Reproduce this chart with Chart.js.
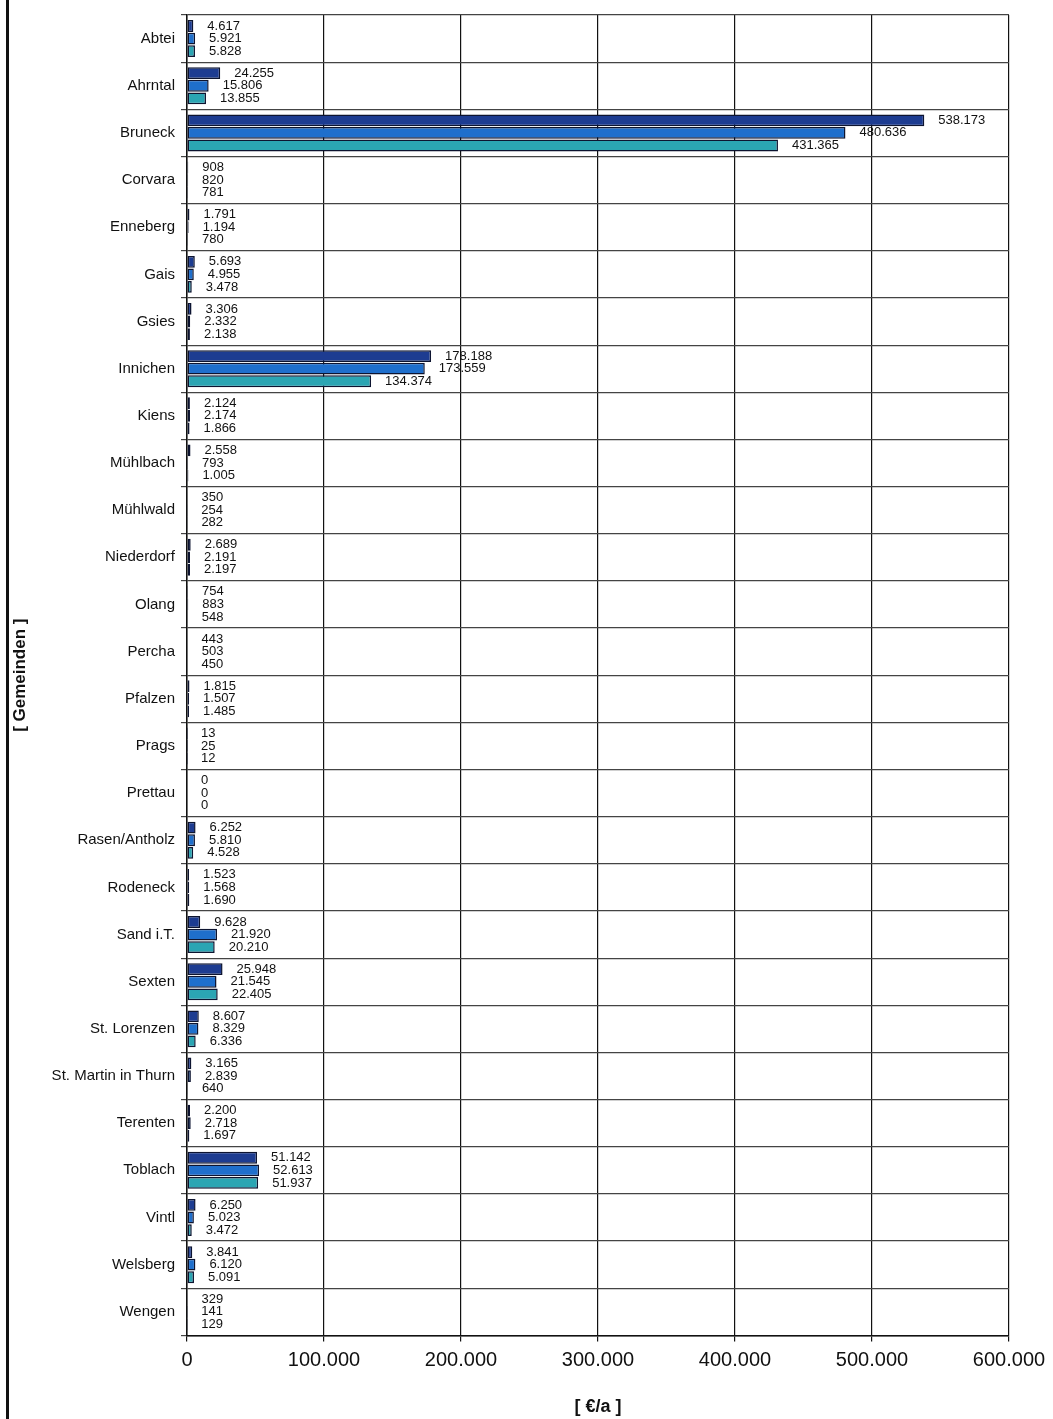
<!DOCTYPE html>
<html>
<head>
<meta charset="utf-8">
<script src="https://cdn.jsdelivr.net/npm/chart.js@4/dist/chart.umd.min.js"></script>
<style>
  html, body { margin: 0; padding: 0; background: #fff; }
  #wrap { width: 1053px; height: 1419px; position: relative; }
</style>
</head>
<body>
<div id="wrap"><canvas id="myChart" width="1053" height="1419"></canvas></div>
<script>
const gemeinden = [
  "Abtei", "Ahrntal", "Bruneck", "Corvara", "Enneberg", "Gais", "Gsies",
  "Innichen", "Kiens", "Mühlbach", "Mühlwald", "Niederdorf", "Olang",
  "Percha", "Pfalzen", "Prags", "Prettau", "Rasen/Antholz", "Rodeneck",
  "Sand i.T.", "Sexten", "St. Lorenzen", "St. Martin in Thurn", "Terenten",
  "Toblach", "Vintl", "Welsberg", "Wengen"
];

const serie1 = [
  4617, 24255, 538173, 908, 1791, 5693, 3306, 178188, 2124, 2558, 350,
  2689, 754, 443, 1815, 13, 0, 6252, 1523, 9628, 25948, 8607, 3165, 2200,
  51142, 6250, 3841, 329
];
const serie2 = [
  5921, 15806, 480636, 820, 1194, 4955, 2332, 173559, 2174, 793, 254,
  2191, 883, 503, 1507, 25, 0, 5810, 1568, 21920, 21545, 8329, 2839, 2718,
  52613, 5023, 6120, 141
];
const serie3 = [
  5828, 13855, 431365, 781, 780, 3478, 2138, 134374, 1866, 1005, 282,
  2197, 548, 450, 1485, 12, 0, 4528, 1690, 20210, 22405, 6336, 640, 1697,
  51937, 3472, 5091, 129
];

const xTicks = [0, 100000, 200000, 300000, 400000, 500000, 600000];

// Tausenderpunkt wie im Original
function formatDE(v) {
  return String(Math.round(v)).replace(/\B(?=(\d{3})+(?!\d))/g, ".");
}

const labelPlugin = {
  id: "barLabels",
  afterDatasetsDraw(chart) {
    const ctx = chart.ctx;
    ctx.save();
    ctx.font = "13px 'Liberation Sans', Arial, sans-serif";
    ctx.fillStyle = "#111";
    ctx.textAlign = "left";
    ctx.textBaseline = "middle";
    chart.data.datasets.forEach((ds, i) => {
      chart.getDatasetMeta(i).data.forEach((bar, j) => {
        ctx.fillText(formatDE(ds.data[j]), bar.x + 14, bar.y);
      });
    });
    ctx.restore();
  }
};

const pagePlugin = {
  id: "page",
  beforeDraw(chart) {
    const ctx = chart.ctx;
    ctx.save();
    ctx.fillStyle = "#fff";
    ctx.fillRect(0, 0, chart.width, chart.height);
    ctx.fillStyle = "#111";
    ctx.fillRect(6, 0, 3, chart.height);
    ctx.restore();
  }
};

const ctx = document.getElementById("myChart").getContext("2d");

new Chart(ctx, {
  type: "bar",
  data: {
    labels: gemeinden,
    datasets: [
      { data: serie1, backgroundColor: "#1d3c91", borderColor: "#0d1430", borderWidth: 1.5, borderSkipped: false },
      { data: serie2, backgroundColor: "#1f6fcc", borderColor: "#0d1430", borderWidth: 1.5, borderSkipped: false },
      { data: serie3, backgroundColor: "#2ba5b3", borderColor: "#0d1430", borderWidth: 1.5, borderSkipped: false }
    ]
  },
  options: {
    indexAxis: "y",
    responsive: false,
    animation: false,
    events: [],
    layout: { padding: { top: 8, right: 44, bottom: 1, left: 0 } },
    datasets: { bar: { categoryPercentage: 0.8, barPercentage: 0.94 } },
    plugins: {
      legend: { display: false },
      tooltip: { enabled: false }
    },
    scales: {
      x: {
        min: 0,
        max: 600000,
        afterBuildTicks(scale) {
          scale.ticks = xTicks.map((v) => ({ value: v }));
        },
        grid: { color: "#111", lineWidth: 1.2, tickLength: 6 },
        border: { color: "#111", width: 1.5 },
        ticks: {
          color: "#111",
          padding: 7,
          maxRotation: 0,
          font: { family: "'Liberation Sans', Arial, sans-serif", size: 20 },
          callback: (v) => formatDE(v)
        },
        title: {
          display: true,
          text: "[ €/a ]",
          color: "#111",
          padding: { top: 17, bottom: 0 },
          font: { family: "'Liberation Sans', Arial, sans-serif", size: 18, weight: "bold" }
        }
      },
      y: {
        afterFit(scale) { scale.width = 187; },
        grid: { offset: true, color: "#444", lineWidth: 1.2, tickLength: 6 },
        border: { color: "#111", width: 1.5 },
        ticks: {
          color: "#111",
          padding: 6,
          font: { family: "'Liberation Sans', Arial, sans-serif", size: 15 }
        },
        title: {
          display: true,
          text: "[ Gemeinden ]",
          color: "#111",
          padding: { top: 10, bottom: 0 },
          font: { family: "'Liberation Sans', Arial, sans-serif", size: 17, weight: "bold" }
        }
      }
    }
  },
  plugins: [pagePlugin, labelPlugin]
});
</script>
</body>
</html>
